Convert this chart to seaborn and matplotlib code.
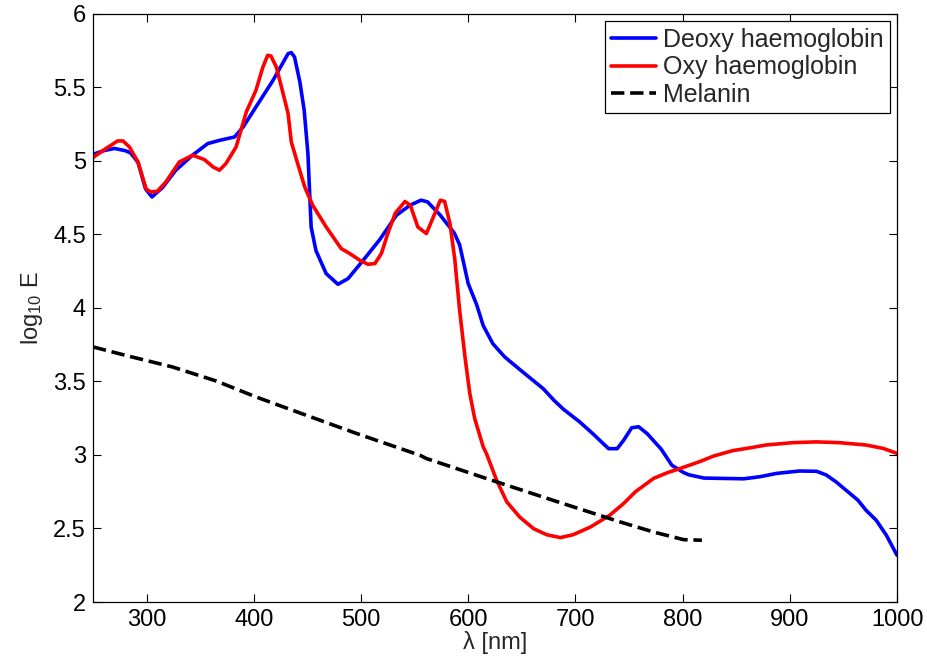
import matplotlib
matplotlib.use("Agg")
import matplotlib.pyplot as plt
import pandas as pd
import seaborn as sns
from matplotlib.ticker import FuncFormatter

# Absorption spectra
deoxy_wl = [250, 260, 270, 280, 285, 292, 299, 305, 315, 327, 343, 357, 368, 382, 390,
            402, 418, 432, 435, 438, 443, 447, 450.5, 453.5, 458, 467.5, 478.5, 488,
            502, 517.5, 533, 545.5, 556, 562, 573.5, 587, 592, 600, 608, 614, 623, 634,
            651, 670, 680, 689, 704, 717, 726, 731, 739, 745, 752.5, 759, 767, 780, 790,
            801, 806, 820, 857, 872, 888, 909, 925, 934, 943, 953, 963.5, 971, 980.5,
            990, 1000]
deoxy_val = [5.045, 5.07, 5.085, 5.07, 5.055, 4.99, 4.81, 4.755, 4.82, 4.935, 5.04, 5.118,
             5.14, 5.163, 5.23, 5.367, 5.549, 5.73, 5.737, 5.707, 5.537, 5.345, 5.05,
             4.55, 4.39, 4.234, 4.161, 4.2, 4.324, 4.465, 4.63, 4.698, 4.733, 4.722,
             4.635, 4.51, 4.43, 4.166, 4.02, 3.88, 3.757, 3.667, 3.564, 3.451, 3.372,
             3.31, 3.225, 3.14, 3.077, 3.043, 3.043, 3.1, 3.185, 3.192, 3.145, 3.04,
             2.93, 2.88, 2.865, 2.843, 2.838, 2.852, 2.875, 2.891, 2.889, 2.864, 2.818,
             2.757, 2.693, 2.625, 2.557, 2.455, 2.318]

oxy_wl = [250, 262, 273, 278, 284, 292, 299.5, 304, 310, 318, 330.5, 343, 354, 362, 368,
          374, 383.5, 393, 402, 408.5, 413, 416, 421, 427, 432, 435, 440, 447.5, 455,
          467.5, 481.5, 489.5, 499, 506.5, 513, 519, 525, 532, 541, 546, 553, 561,
          567.5, 574, 578, 583, 587.5, 592, 597, 601.5, 606, 614, 617, 626.5, 636, 648,
          661, 673, 686, 698, 714, 732, 745, 756, 773, 786, 798, 816, 829, 847, 860,
          878, 903, 925, 946, 971, 987, 1000]
oxy_val = [5.023, 5.084, 5.136, 5.136, 5.095, 4.993, 4.81, 4.789, 4.794, 4.857, 4.993,
           5.039, 5.009, 4.959, 4.937, 4.982, 5.095, 5.333, 5.48, 5.639, 5.719, 5.714,
           5.639, 5.469, 5.322, 5.129, 5.005, 4.823, 4.698, 4.551, 4.404, 4.37, 4.324,
           4.297, 4.302, 4.37, 4.506, 4.645, 4.724, 4.699, 4.551, 4.506, 4.619, 4.733,
           4.725, 4.574, 4.33, 3.985, 3.667, 3.418, 3.25, 3.055, 3.01, 2.828, 2.681,
           2.578, 2.499, 2.458, 2.438, 2.458, 2.51, 2.59, 2.67, 2.75, 2.841, 2.88,
           2.909, 2.955, 2.993, 3.03, 3.045, 3.068, 3.084, 3.089, 3.084, 3.068, 3.045,
           3.011]

melanin_wl = [250, 284, 324, 365, 402, 449, 496, 555, 561, 617, 679, 742, 773, 801, 818]
melanin_val = [3.735, 3.671, 3.599, 3.503, 3.395, 3.27, 3.146, 2.998, 2.976, 2.84,
               2.692, 2.544, 2.476, 2.424, 2.42]

x_ticks = [300, 400, 500, 600, 700, 800, 900, 1000]
y_ticks = [2, 2.5, 3, 3.5, 4, 4.5, 5, 5.5, 6]

sns.set_style("ticks")
plt.rcParams['font.family'] = ['Liberation Sans', 'DejaVu Sans']
plt.rcParams['mathtext.default'] = 'regular'

df_deoxy = pd.DataFrame({'wl': deoxy_wl, 'val': deoxy_val})
df_oxy = pd.DataFrame({'wl': oxy_wl, 'val': oxy_val})
df_mel = pd.DataFrame({'wl': melanin_wl, 'val': melanin_val})

fig = plt.figure(figsize=(9.28, 6.63), dpi=100)
ax = fig.add_axes([0.1002, 0.092, 0.8664, 0.887])

sns.lineplot(data=df_deoxy, x='wl', y='val', ax=ax, color='#0000ff', linewidth=2.6,
             sort=False, label='Deoxy haemoglobin')
sns.lineplot(data=df_oxy, x='wl', y='val', ax=ax, color='#ff0000', linewidth=2.6,
             sort=False, label='Oxy haemoglobin')
sns.lineplot(data=df_mel, x='wl', y='val', ax=ax, color='black', linewidth=2.6,
             linestyle='--', sort=False, label='Melanin')

ax.set_xlim(250, 1000)
ax.set_ylim(2, 6)
ax.set_xticks(x_ticks)
ax.set_yticks(y_ticks)
ax.yaxis.set_major_formatter(FuncFormatter(lambda v, p: '%g' % v))
ax.tick_params(direction='in', top=True, right=True, length=6, width=0.8,
               labelsize=17, pad=5, colors='black')
for s in ax.spines.values():
    s.set_color('black')
    s.set_linewidth(0.9)

ax.set_xlabel(r'λ [nm]', fontsize=17, labelpad=0)
ax.set_ylabel(r'log$_{10}$ E', fontsize=17, labelpad=6)

leg = ax.legend(loc='upper right', fontsize=18, frameon=True, fancybox=False,
                edgecolor='black', framealpha=1, borderaxespad=0.3, borderpad=0.25,
                labelspacing=0.15, handlelength=1.8, handletextpad=0.25)
leg.get_frame().set_linewidth(0.9)

fig.savefig('out.png', dpi=100)
